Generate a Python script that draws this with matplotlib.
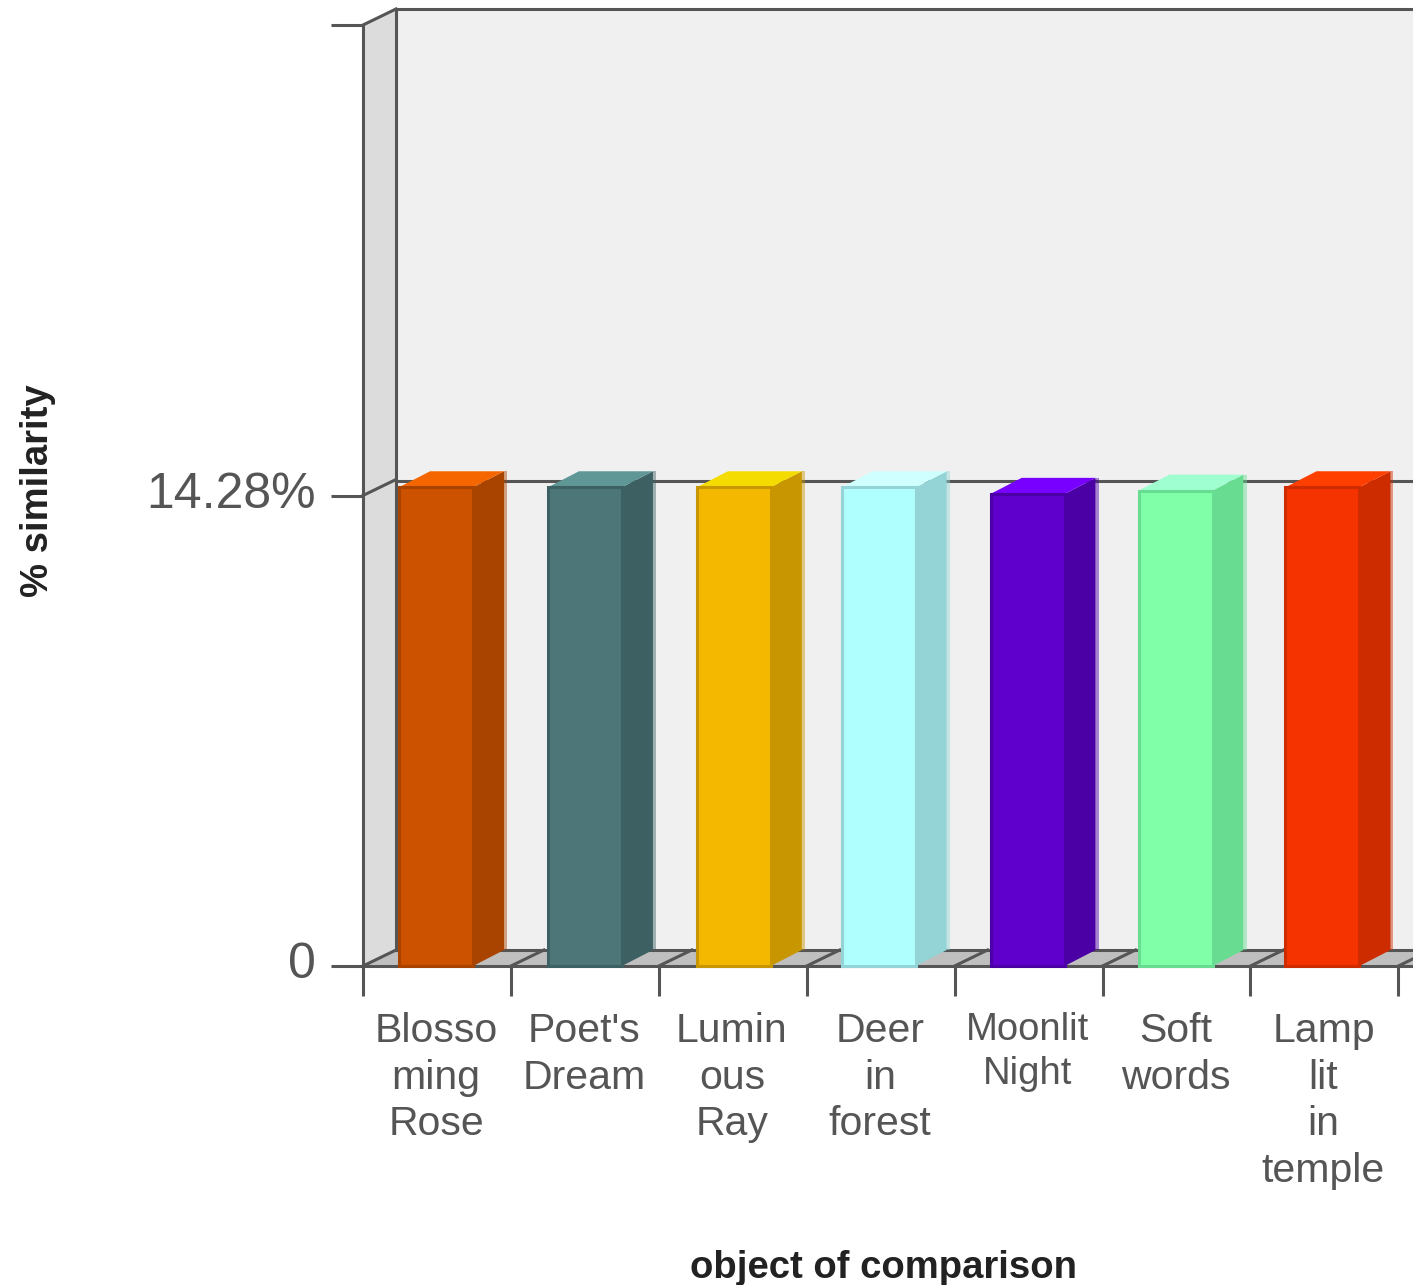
import matplotlib
matplotlib.use('Agg')
import matplotlib.pyplot as plt
from matplotlib.patches import Polygon
from matplotlib.transforms import ScaledTranslation

plt.rcParams['font.family'] = ['Liberation Sans', 'DejaVu Sans']

labels = ['Blosso\nming\nRose', "Poet's\nDream", 'Lumin\nous\nRay', 'Deer\nin\nforest',
          'Moonlit\nNight', 'Soft\nwords', 'Lamp\nlit\nin\ntemple']
values = [14.53, 14.53, 14.53, 14.53, 14.33, 14.43, 14.53]
y_ticks = [0, 14.28, 28.56]
y_tick_labels = ['0', '14.28%', '']

front_colors = ['#cc5200', '#4c7678', '#f4b800', '#b0ffff', '#5f00cc', '#80ffa8', '#f53300']
side_colors = ['#a84300', '#3d6062', '#c79600', '#94d4d6', '#4b00a6', '#68dc90', '#cc2c00']
top_colors = ['#f56600', '#5f9696', '#f4dc00', '#d0ffff', '#7700ff', '#a0ffd0', '#ff3f00']

line_c = '#555555'
W, H = 1413, 1285
left, bottom, right, top = 363, 966, W, 25
cat_px = 147.9
unit_px = (bottom - top) / 28.56

fig = plt.figure(figsize=(W / 100, H / 100), dpi=100)
ax = fig.add_axes([left / W, 1 - bottom / H, (right - left) / W, (bottom - top) / H])
ax.set_xlim(0, (right - left) / cat_px)
ax.set_ylim(0, 28.56)
ax.patch.set_visible(False)

# depth of the fake 3d box, in data units
dx = 33 / cat_px
dy = 16 / unit_px
bar_dx = 31 / cat_px
bar_w = 74 / cat_px
x_end = (right - left) / cat_px + 0.1

# walls and floor
ax.add_patch(Polygon([(dx, dy), (x_end, dy), (x_end, 28.56 + dy), (dx, 28.56 + dy)],
                     fc='#f0f0f0', ec='none', zorder=1, clip_on=False))
ax.add_patch(Polygon([(0, 0), (dx, dy), (dx, 28.56 + dy), (0, 28.56)],
                     fc='#dcdcdc', ec='none', zorder=1, clip_on=False))
ax.add_patch(Polygon([(0, 0), (x_end, 0), (x_end, dy), (dx, dy)],
                     fc='#bfbfbf', ec='none', zorder=1, clip_on=False))

lw = 2.2
ax.plot([dx, dx], [dy, 28.56 + dy], c=line_c, lw=lw, zorder=2, clip_on=False)
ax.plot([dx, x_end], [28.56 + dy, 28.56 + dy], c=line_c, lw=lw, zorder=2, clip_on=False)
ax.plot([dx, x_end], [dy, dy], c=line_c, lw=lw, zorder=2, clip_on=False)
ax.plot([dx, x_end], [14.28 + 15 / unit_px] * 2, c=line_c, lw=lw, zorder=2, clip_on=False)
ax.plot([0, dx], [14.28, 14.28 + dy], c=line_c, lw=lw, zorder=2, clip_on=False)
ax.plot([0, dx], [28.56, 28.56 + dy], c=line_c, lw=lw, zorder=2, clip_on=False)
for i in range(8):
    ax.plot([i, i + dx], [0, dy], c=line_c, lw=lw, zorder=2, clip_on=False)

# bars, the original ones sit a little unevenly
nudge_px = [0, 1, 2, -1, 0, 0, -1]
label_pos = [i + 0.494 for i in range(len(values))]
centers = [label_pos[i] + nudge_px[i] / cat_px for i in range(len(values))]
ax.bar(centers, values, width=bar_w, color=front_colors, edgecolor=side_colors,
       linewidth=2.2, zorder=5, clip_on=False)
for i, v in enumerate(values):
    x0 = centers[i] - bar_w / 2
    x1 = centers[i] + bar_w / 2
    shadow = 3 / cat_px
    ax.add_patch(Polygon([(x1 + bar_dx, dy), (x1 + bar_dx + shadow, dy),
                          (x1 + bar_dx + shadow, v + dy), (x1 + bar_dx, v + dy)],
                         fc=side_colors[i], ec='none', alpha=0.45, zorder=3, clip_on=False))
    ax.add_patch(Polygon([(x1, 0), (x1 + bar_dx, dy), (x1 + bar_dx, v + dy), (x1, v)],
                         fc=side_colors[i], ec='none', zorder=4, clip_on=False))
    ax.add_patch(Polygon([(x0, v), (x1, v), (x1 + bar_dx, v + dy), (x0 + bar_dx, v + dy)],
                         fc=top_colors[i], ec='none', zorder=4, clip_on=False))

for s in ['top', 'right']:
    ax.spines[s].set_visible(False)
for s in ['left', 'bottom']:
    ax.spines[s].set_color(line_c)
    ax.spines[s].set_linewidth(lw)

ax.set_yticks(y_ticks)
ax.set_yticklabels(y_tick_labels, fontsize=36, color='#555555')
ax.tick_params(axis='y', length=23, width=lw, color=line_c, pad=11)
up = ScaledTranslation(0, 6 / 100, fig.dpi_scale_trans)
for t in ax.get_yticklabels():
    t.set_transform(t.get_transform() + up)

ax.set_xticks(range(8))
ax.set_xticklabels([''] * 8)
ax.tick_params(axis='x', which='major', length=21.6, width=lw, color=line_c)
ax.set_xticks(label_pos, minor=True)
ax.set_xticklabels(labels, minor=True, fontsize=29.5, color='#555555', linespacing=1.29)
ax.tick_params(axis='x', which='minor', length=0, pad=33)
moonlit = ax.get_xticklabels(minor=True)[4]
moonlit.set_fontsize(27.5)
moonlit.set_linespacing(1.28)

fig.text(38 / W, 1 - 491 / H, '% similarity', rotation=90, fontsize=27.5, fontweight='bold',
         color='#222222', ha='center', va='center')
fig.text(884 / W, 1 - 1268 / H, 'object of comparison', fontsize=27.5, fontweight='bold',
         color='#222222', ha='center', va='center')

fig.savefig('out.png', dpi=100, facecolor='white')
